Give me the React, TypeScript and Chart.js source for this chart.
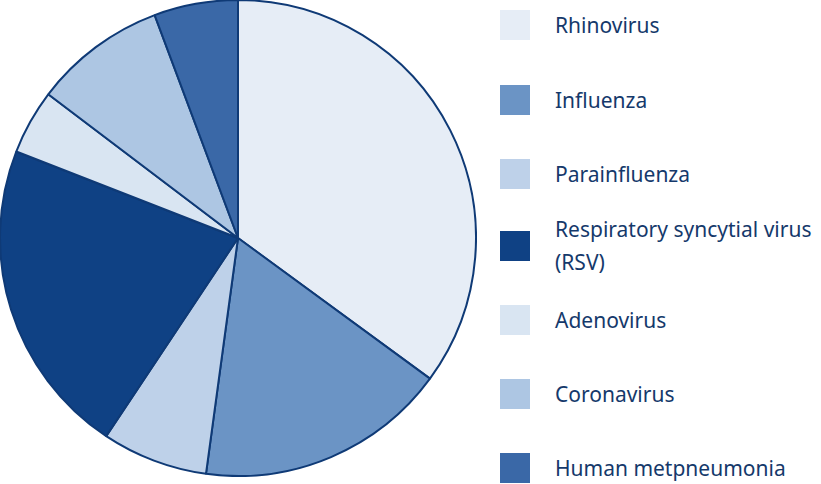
import React, { useEffect, useRef } from "react";
import { Chart, registerables } from "chart.js";

Chart.register(...registerables);

const categories: string[][] = [
  ["Rhinovirus"],
  ["Influenza"],
  ["Parainfluenza"],
  ["Respiratory syncytial virus", "(RSV)"],
  ["Adenovirus"],
  ["Coronavirus"],
  ["Human metpneumonia"],
];
const values: number[] = [35.1, 17.1, 7.2, 21.6, 4.4, 9.0, 5.7];
const colors: string[] = ["#e6edf6", "#6b94c5", "#bed1e9", "#0f4184", "#d9e5f2", "#adc6e3", "#3a68a7"];
const legendTops: number[] = [10, 85, 159, 231, 305, 379, 453];

export default function App() {
  const ref = useRef<HTMLCanvasElement | null>(null);
  useEffect(() => {
    if (!ref.current) return;
    const chart = new Chart(ref.current, {
      type: "pie",
      data: {
        labels: categories.map((c) => c.join(" ")),
        datasets: [
          {
            data: values,
            backgroundColor: colors,
            borderColor: "#0f3a76",
            borderWidth: 2,
          },
        ],
      },
      options: {
        animation: false,
        responsive: false,
        maintainAspectRatio: false,
        layout: { padding: 0 },
        plugins: { legend: { display: false }, tooltip: { enabled: false } },
      },
    });
    return () => chart.destroy();
  }, []);

  return (
    <div style={{ position: "absolute", left: 0, top: 0, width: 821, height: 484, background: "#fff", overflow: "hidden" }}>
      <canvas ref={ref} width={478} height={478} style={{ position: "absolute", left: -1, top: -1, width: 478, height: 478 }} />
      {categories.map((c, i) => (
        <div
          key={i}
          style={{
            position: "absolute",
            left: 500,
            top: legendTops[i],
            height: 30,
            display: "flex",
            alignItems: "center",
            whiteSpace: "nowrap",
          }}
        >
          <div style={{ width: 30, height: 30, background: colors[i], flex: "none" }} />
          <div
            style={{
              marginLeft: 25,
              fontFamily: "'Noto Sans', sans-serif",
              fontSize: 21,
              lineHeight: "33px",
              color: "#15396b",
            }}
          >
            {c.map((line, j) => (
              <div key={j}>{line}</div>
            ))}
          </div>
        </div>
      ))}
    </div>
  );
}
